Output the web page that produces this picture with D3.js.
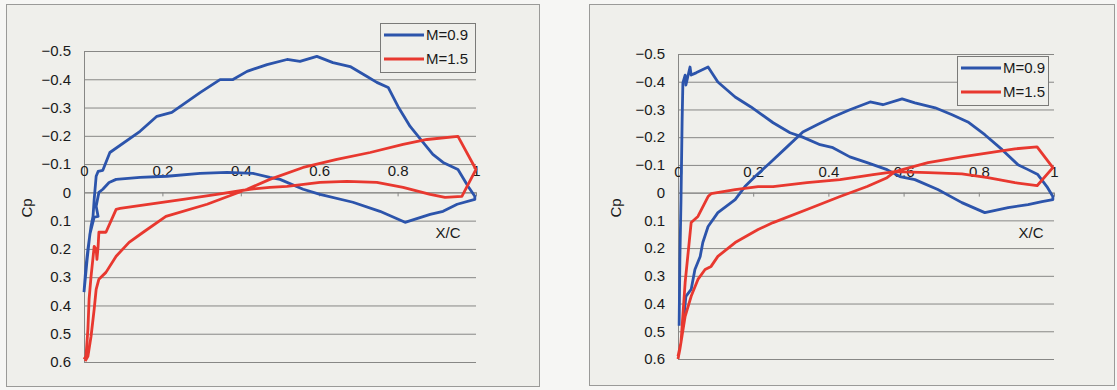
<!DOCTYPE html>
<html>
<head>
<meta charset="utf-8">
<script src="https://cdn.jsdelivr.net/npm/d3@7"></script>
<style>
  body { margin: 0; background: #f6f6f4; }
  svg { display: block; font-family: "Liberation Sans", Arial, sans-serif; }
</style>
</head>
<body>
<svg id="viz" width="1117" height="390"></svg>
<script>
// axis ticks
const xTicks = [0, 0.2, 0.4, 0.6, 0.8, 1];
const xTickLabels = ["0", "0.2", "0.4", "0.6", "0.8", "1"];
const cpTicks = [-0.5, -0.4, -0.3, -0.2, -0.1, 0, 0.1, 0.2, 0.3, 0.4, 0.5, 0.6];
const cpTickLabels = ["\u22120.5", "\u22120.4", "\u22120.3", "\u22120.2", "\u22120.1", "0", "0.1", "0.2", "0.3", "0.4", "0.5", "0.6"];
const seriesNames = ["M=0.9", "M=1.5"];

// left chart, [x/c, cp]
const leftM09SideA = [
  [0, 0.353], [0.005, 0.261], [0.010, 0.201], [0.018, 0.120], [0.023, 0.085], [0.026, 0.025],
  [0.031, -0.057], [0.036, -0.074], [0.048, -0.078], [0.066, -0.141], [0.143, -0.216],
  [0.186, -0.269], [0.224, -0.283], [0.296, -0.353], [0.347, -0.399], [0.380, -0.399],
  [0.416, -0.428], [0.467, -0.452], [0.518, -0.470], [0.551, -0.463], [0.594, -0.481],
  [0.635, -0.459], [0.679, -0.445], [0.722, -0.410], [0.747, -0.389], [0.776, -0.371],
  [0.801, -0.304], [0.832, -0.233], [0.865, -0.177], [0.890, -0.134], [0.916, -0.106],
  [0.954, -0.081], [0.980, -0.021], [0.997, 0.014]
];
const leftM09SideB = [
  [0, 0.353], [0.008, 0.237], [0.015, 0.148], [0.026, 0.088], [0.036, 0.085], [0.031, 0.049],
  [0.038, 0], [0.048, -0.011], [0.064, -0.035], [0.082, -0.046], [0.143, -0.053],
  [0.212, -0.057], [0.296, -0.067], [0.365, -0.071], [0.431, -0.067], [0.474, -0.053],
  [0.500, -0.046], [0.559, -0.011], [0.602, 0.007], [0.686, 0.035], [0.755, 0.067],
  [0.819, 0.106], [0.883, 0.078], [0.916, 0.067], [0.952, 0.042], [0.997, 0.025]
];
const leftM15SideA = [
  [0, 0.590], [0.005, 0.580], [0.010, 0.484], [0.013, 0.378], [0.018, 0.297], [0.026, 0.191],
  [0.031, 0.201], [0.033, 0.237], [0.036, 0.191], [0.038, 0.141], [0.056, 0.141],
  [0.082, 0.060], [0.092, 0.057], [0.168, 0.042], [0.253, 0.025], [0.339, 0.007],
  [0.423, -0.011], [0.474, -0.018], [0.518, -0.021], [0.602, -0.035], [0.671, -0.039],
  [0.747, -0.035], [0.814, -0.018], [0.883, 0.007], [0.921, 0.018], [0.964, 0.014], [1.0, -0.081]
];
const leftM15SideB = [
  [0.003, 0.597], [0.010, 0.580], [0.018, 0.509], [0.026, 0.413], [0.031, 0.343], [0.038, 0.307],
  [0.056, 0.283], [0.082, 0.226], [0.115, 0.177], [0.151, 0.141], [0.209, 0.085],
  [0.314, 0.042], [0.416, -0.011], [0.474, -0.046], [0.559, -0.088], [0.645, -0.117],
  [0.730, -0.141], [0.814, -0.170], [0.875, -0.187], [0.954, -0.198], [1.0, -0.081]
];

// right chart, [x/c, cp]
const rightM09SideA = [
  [0.003, 0.480], [0.005, 0.240], [0.008, 0.025], [0.011, -0.263], [0.013, -0.396],
  [0.019, -0.424], [0.021, -0.388], [0.032, -0.453], [0.035, -0.424], [0.048, -0.432],
  [0.080, -0.453], [0.106, -0.399], [0.152, -0.345], [0.194, -0.309], [0.253, -0.252],
  [0.298, -0.216], [0.330, -0.201], [0.378, -0.173], [0.412, -0.162], [0.457, -0.129],
  [0.503, -0.108], [0.556, -0.083], [0.590, -0.058], [0.630, -0.047], [0.691, -0.011],
  [0.755, 0.036], [0.816, 0.072], [0.878, 0.054], [0.931, 0.043], [0.968, 0.032], [0.997, 0.025]
];
const rightM09SideB = [
  [0.013, 0.482], [0.021, 0.374], [0.035, 0.349], [0.045, 0.277], [0.059, 0.230], [0.066, 0.180],
  [0.080, 0.122], [0.106, 0.072], [0.152, 0.025], [0.178, -0.022], [0.205, -0.058],
  [0.245, -0.108], [0.290, -0.165], [0.332, -0.219], [0.370, -0.245], [0.412, -0.273],
  [0.457, -0.299], [0.511, -0.327], [0.545, -0.317], [0.596, -0.338], [0.630, -0.324],
  [0.684, -0.306], [0.729, -0.281], [0.771, -0.255], [0.816, -0.209], [0.862, -0.155],
  [0.904, -0.101], [0.931, -0.083], [0.957, -0.065], [0.981, -0.022], [0.997, 0.014]
];
const rightM15SideA = [
  [0, 0.590], [0.008, 0.540], [0.019, 0.324], [0.027, 0.216], [0.035, 0.108], [0.053, 0.086],
  [0.080, 0.014], [0.088, 0.004], [0.152, -0.011], [0.213, -0.022], [0.253, -0.022],
  [0.343, -0.036], [0.431, -0.047], [0.519, -0.065], [0.577, -0.076], [0.665, -0.072],
  [0.755, -0.068], [0.824, -0.054], [0.896, -0.036], [0.955, -0.025], [0.997, -0.090]
];
const rightM15SideB = [
  [0, 0.600], [0.005, 0.565], [0.019, 0.446], [0.035, 0.374], [0.053, 0.313], [0.072, 0.277],
  [0.088, 0.266], [0.106, 0.230], [0.152, 0.180], [0.213, 0.133], [0.253, 0.108],
  [0.343, 0.061], [0.431, 0.014], [0.503, -0.022], [0.556, -0.054], [0.577, -0.076],
  [0.665, -0.108], [0.755, -0.129], [0.843, -0.147], [0.896, -0.158], [0.955, -0.165], [0.997, -0.090]
];

const COLORS = ["#2c54ab", "#e8382f"];

const panels = [
  {
    frame: { x: 6, y: 4, w: 533, h: 382 },
    plot: { left: 84, right: 476, top: 51, bottom: 362 },
    legend: { x: 380, y: 23, w: 95, h: 49 },
    cpPos: [27, 208], xcPos: [448, 238],
    series: [[leftM09SideA, leftM09SideB], [leftM15SideA, leftM15SideB]]
  },
  {
    frame: { x: 589, y: 4, w: 525, h: 381 },
    plot: { left: 678, right: 1054, top: 54, bottom: 359 },
    legend: { x: 957, y: 56, w: 91, h: 49 },
    cpPos: [616, 208], xcPos: [1031, 238],
    series: [[rightM09SideA, rightM09SideB], [rightM15SideA, rightM15SideB]]
  }
];

const svg = d3.select("#viz");

panels.forEach(p => {
  const g = svg.append("g");

  g.append("rect")
    .attr("x", p.frame.x + 0.5).attr("y", p.frame.y + 0.5)
    .attr("width", p.frame.w).attr("height", p.frame.h)
    .attr("fill", "#efefeb").attr("stroke", "#9a9a98");

  const x = d3.scaleLinear().domain([0, 1]).range([p.plot.left, p.plot.right]);
  const y = d3.scaleLinear().domain([-0.5, 0.6]).range([p.plot.top, p.plot.bottom]);
  const w = p.plot.right - p.plot.left;

  // horizontal grid lines
  const grid = g.append("g")
    .attr("transform", `translate(${p.plot.left},0)`)
    .call(d3.axisLeft(y).tickValues(cpTicks).tickSize(-w).tickFormat(""));
  grid.select(".domain").remove();
  grid.selectAll("line").attr("stroke", "#878785").attr("stroke-width", 1);

  // y axis labels + axis line
  const yAxis = g.append("g")
    .attr("transform", `translate(${p.plot.left},0)`)
    .call(d3.axisLeft(y).tickValues(cpTicks).tickSizeInner(0).tickSizeOuter(0)
      .tickPadding(13).tickFormat((d, i) => cpTickLabels[i]));
  yAxis.select(".domain").attr("stroke", "#878785");
  yAxis.selectAll("text").attr("font-size", 15).attr("fill", "#1a1a1a").attr("font-family", null);

  // x axis at cp = 0, labels above the line
  const xAxis = g.append("g")
    .attr("transform", `translate(0,${y(0)})`)
    .call(d3.axisBottom(x).tickValues(xTicks).tickSizeInner(4).tickSizeOuter(0)
      .tickFormat((d, i) => xTickLabels[i]));
  xAxis.select(".domain").attr("stroke", "#878785");
  xAxis.selectAll("line").attr("stroke", "#878785");
  xAxis.selectAll("text")
    .attr("y", -16).attr("dy", 0)
    .attr("font-size", 15).attr("fill", "#1a1a1a").attr("font-family", null);

  // curves: side A out to the trailing edge, side B back to the leading edge
  const line = d3.line().x(d => x(d[0])).y(d => y(d[1]));
  p.series.forEach((s, i) => {
    const loop = s[0].concat(s[1].slice().reverse());
    g.append("path")
      .attr("d", line(loop))
      .attr("fill", "none")
      .attr("stroke", COLORS[i])
      .attr("stroke-width", 2.8)
      .attr("stroke-linejoin", "round");
  });

  // axis titles
  g.append("text")
    .attr("transform", `translate(${p.cpPos[0]},${p.cpPos[1]}) rotate(-90)`)
    .attr("text-anchor", "middle").attr("dy", "0.35em")
    .attr("font-size", 15).attr("fill", "#1a1a1a")
    .text("Cp");
  g.append("text")
    .attr("x", p.xcPos[0]).attr("y", p.xcPos[1])
    .attr("text-anchor", "middle")
    .attr("font-size", 15).attr("fill", "#1a1a1a")
    .text("X/C");

  // legend
  const lg = g.append("g").attr("transform", `translate(${p.legend.x},${p.legend.y})`);
  lg.append("rect")
    .attr("x", 0.5).attr("y", 0.5).attr("width", p.legend.w).attr("height", p.legend.h)
    .attr("fill", "#efefeb").attr("stroke", "#7a7a78");
  seriesNames.forEach((name, i) => {
    const ry = 12 + i * 24;
    lg.append("line")
      .attr("x1", 4).attr("x2", 44).attr("y1", ry).attr("y2", ry)
      .attr("stroke", COLORS[i]).attr("stroke-width", 2.8);
    lg.append("text")
      .attr("x", 46).attr("y", ry).attr("dy", "0.35em")
      .attr("font-size", 15).attr("fill", "#1a1a1a")
      .text(name);
  });
});
</script>
</body>
</html>
